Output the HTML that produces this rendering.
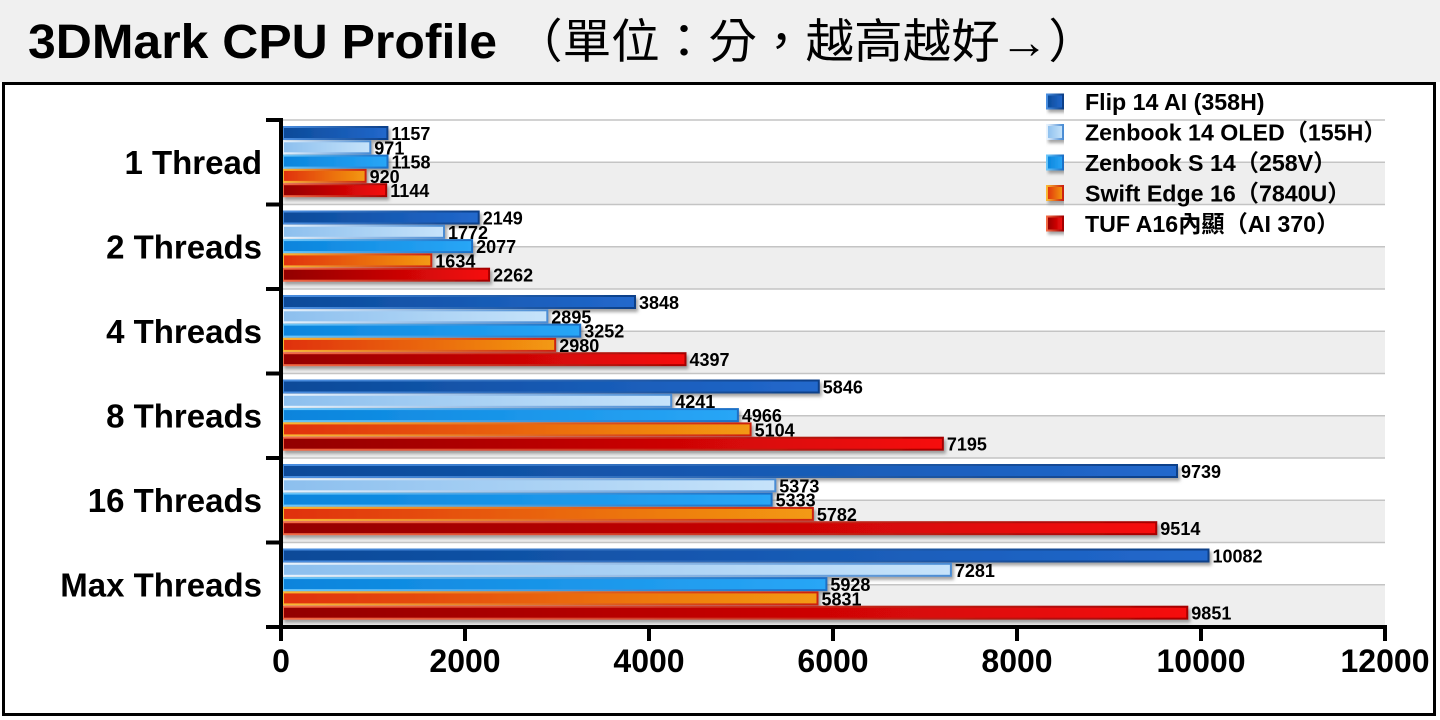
<!DOCTYPE html>
<html><head><meta charset="utf-8"><style>
html,body{margin:0;padding:0;background:#fff;}
svg{display:block;}
.cat{font-family:"Liberation Sans","Noto Sans CJK TC",sans-serif;font-weight:bold;font-size:33px;fill:#000;text-anchor:end;}
.xt{font-family:"Liberation Sans",sans-serif;font-weight:bold;font-size:32px;fill:#000;text-anchor:middle;}
.v{font-family:"Liberation Sans",sans-serif;font-weight:bold;font-size:18px;fill:#000;}
.lg{font-family:"Liberation Sans","Noto Sans CJK TC",sans-serif;font-weight:bold;font-size:23.2px;fill:#000;}
.b{stroke-width:2;}
</style></head><body>
<svg width="1440" height="720" viewBox="0 0 1440 720" xmlns="http://www.w3.org/2000/svg">
<defs>
<linearGradient id="f0" x1="0" x2="1" y1="0" y2="0"><stop offset="0" stop-color="#0b4a98"/><stop offset="1" stop-color="#2268cc"/></linearGradient>
<linearGradient id="s0" x1="0" x2="1" y1="0" y2="0"><stop offset="0" stop-color="#4a8ee0"/><stop offset="1" stop-color="#0c3f88"/></linearGradient>
<linearGradient id="f1" x1="0" x2="1" y1="0" y2="0"><stop offset="0" stop-color="#8cbfee"/><stop offset="1" stop-color="#c6e3fa"/></linearGradient>
<linearGradient id="s1" x1="0" x2="1" y1="0" y2="0"><stop offset="0" stop-color="#e8f3fd"/><stop offset="1" stop-color="#4a8cd4"/></linearGradient>
<linearGradient id="f2" x1="0" x2="1" y1="0" y2="0"><stop offset="0" stop-color="#0a84dc"/><stop offset="1" stop-color="#29a6f6"/></linearGradient>
<linearGradient id="s2" x1="0" x2="1" y1="0" y2="0"><stop offset="0" stop-color="#6ac6fa"/><stop offset="1" stop-color="#1a6fc6"/></linearGradient>
<linearGradient id="f3" x1="0" x2="1" y1="0" y2="0"><stop offset="0" stop-color="#e0300c"/><stop offset="1" stop-color="#f39a12"/></linearGradient>
<linearGradient id="s3" x1="0" x2="1" y1="0" y2="0"><stop offset="0" stop-color="#f9b832"/><stop offset="1" stop-color="#cc2010"/></linearGradient>
<linearGradient id="f4" x1="0" x2="1" y1="0" y2="0"><stop offset="0" stop-color="#920000"/><stop offset="1" stop-color="#f60a0a"/></linearGradient>
<linearGradient id="s4" x1="0" x2="1" y1="0" y2="0"><stop offset="0" stop-color="#f36a45"/><stop offset="1" stop-color="#a40000"/></linearGradient>
<filter id="sh" x="-5%" y="-10%" width="110%" height="120%"><feDropShadow dx="2" dy="3" stdDeviation="1.5" flood-color="#666" flood-opacity="0.6"/></filter>
</defs>

<!-- title band -->
<rect x="0" y="0" width="1440" height="82" fill="#f0f0f0"/>
<text x="28" y="58" font-family="Liberation Sans, sans-serif" font-weight="bold" font-size="48" textLength="469" lengthAdjust="spacingAndGlyphs">3DMark CPU Profile</text>
<text x="514" y="58" font-family="Liberation Sans, Noto Sans CJK TC, sans-serif" font-size="47" textLength="583" lengthAdjust="spacingAndGlyphs">（單位：分，越高越好→）</text>

<!-- chart box -->
<rect x="3.5" y="83.5" width="1431" height="631" fill="#fff" stroke="#000" stroke-width="3"/>

<!-- bands -->
<g fill="#eeeeee">
<rect x="283" y="162.25" width="1102" height="42.25"/>
<rect x="283" y="246.75" width="1102" height="42.25"/>
<rect x="283" y="331.25" width="1102" height="42.25"/>
<rect x="283" y="415.75" width="1102" height="42.25"/>
<rect x="283" y="500.25" width="1102" height="42.25"/>
<rect x="283" y="584.75" width="1102" height="42.25"/>
</g>
<g stroke="#c4c4c4" stroke-width="1.5">
<line x1="283" x2="1385" y1="120" y2="120"/>
<line x1="283" x2="1385" y1="162.25" y2="162.25"/>
<line x1="283" x2="1385" y1="204.5" y2="204.5"/>
<line x1="283" x2="1385" y1="246.75" y2="246.75"/>
<line x1="283" x2="1385" y1="289" y2="289"/>
<line x1="283" x2="1385" y1="331.25" y2="331.25"/>
<line x1="283" x2="1385" y1="373.5" y2="373.5"/>
<line x1="283" x2="1385" y1="415.75" y2="415.75"/>
<line x1="283" x2="1385" y1="458" y2="458"/>
<line x1="283" x2="1385" y1="500.25" y2="500.25"/>
<line x1="283" x2="1385" y1="542.5" y2="542.5"/>
<line x1="283" x2="1385" y1="584.75" y2="584.75"/>
</g>

<!-- bars -->
<g filter="url(#sh)">
<rect class="b" x="283" y="127" width="104.4" height="12" fill="url(#f0)" stroke="url(#s0)"/>
<rect class="b" x="283" y="141.3" width="87.3" height="12" fill="url(#f1)" stroke="url(#s1)"/>
<rect class="b" x="283" y="155.6" width="104.5" height="12" fill="url(#f2)" stroke="url(#s2)"/>
<rect class="b" x="283" y="169.9" width="82.6" height="12" fill="url(#f3)" stroke="url(#s3)"/>
<rect class="b" x="283" y="184.2" width="103.2" height="12" fill="url(#f4)" stroke="url(#s4)"/>

<rect class="b" x="283" y="211.5" width="195.7" height="12" fill="url(#f0)" stroke="url(#s0)"/>
<rect class="b" x="283" y="225.8" width="161.0" height="12" fill="url(#f1)" stroke="url(#s1)"/>
<rect class="b" x="283" y="240.1" width="189.1" height="12" fill="url(#f2)" stroke="url(#s2)"/>
<rect class="b" x="283" y="254.4" width="148.3" height="12" fill="url(#f3)" stroke="url(#s3)"/>
<rect class="b" x="283" y="268.7" width="206.1" height="12" fill="url(#f4)" stroke="url(#s4)"/>

<rect class="b" x="283" y="296" width="352.0" height="12" fill="url(#f0)" stroke="url(#s0)"/>
<rect class="b" x="283" y="310.3" width="264.3" height="12" fill="url(#f1)" stroke="url(#s1)"/>
<rect class="b" x="283" y="324.6" width="297.2" height="12" fill="url(#f2)" stroke="url(#s2)"/>
<rect class="b" x="283" y="338.9" width="272.2" height="12" fill="url(#f3)" stroke="url(#s3)"/>
<rect class="b" x="283" y="353.2" width="402.5" height="12" fill="url(#f4)" stroke="url(#s4)"/>

<rect class="b" x="283" y="380.5" width="535.8" height="12" fill="url(#f0)" stroke="url(#s0)"/>
<rect class="b" x="283" y="394.8" width="388.2" height="12" fill="url(#f1)" stroke="url(#s1)"/>
<rect class="b" x="283" y="409.1" width="454.9" height="12" fill="url(#f2)" stroke="url(#s2)"/>
<rect class="b" x="283" y="423.4" width="467.6" height="12" fill="url(#f3)" stroke="url(#s3)"/>
<rect class="b" x="283" y="437.7" width="659.9" height="12" fill="url(#f4)" stroke="url(#s4)"/>

<rect class="b" x="283" y="465" width="894.0" height="12" fill="url(#f0)" stroke="url(#s0)"/>
<rect class="b" x="283" y="479.3" width="492.3" height="12" fill="url(#f1)" stroke="url(#s1)"/>
<rect class="b" x="283" y="493.6" width="488.6" height="12" fill="url(#f2)" stroke="url(#s2)"/>
<rect class="b" x="283" y="507.9" width="529.9" height="12" fill="url(#f3)" stroke="url(#s3)"/>
<rect class="b" x="283" y="522.2" width="873.3" height="12" fill="url(#f4)" stroke="url(#s4)"/>

<rect class="b" x="283" y="549.5" width="925.5" height="12" fill="url(#f0)" stroke="url(#s0)"/>
<rect class="b" x="283" y="563.8" width="667.9" height="12" fill="url(#f1)" stroke="url(#s1)"/>
<rect class="b" x="283" y="578.1" width="543.4" height="12" fill="url(#f2)" stroke="url(#s2)"/>
<rect class="b" x="283" y="592.4" width="534.5" height="12" fill="url(#f3)" stroke="url(#s3)"/>
<rect class="b" x="283" y="606.7" width="904.3" height="12" fill="url(#f4)" stroke="url(#s4)"/>
</g>

<!-- value labels -->
<g>
<text class="v" x="391.4" y="140">1157</text>
<text class="v" x="374.3" y="154.3">971</text>
<text class="v" x="391.5" y="168.6">1158</text>
<text class="v" x="369.6" y="182.9">920</text>
<text class="v" x="390.2" y="197.2">1144</text>

<text class="v" x="482.7" y="224.5">2149</text>
<text class="v" x="448.0" y="238.8">1772</text>
<text class="v" x="476.1" y="253.1">2077</text>
<text class="v" x="435.3" y="267.4">1634</text>
<text class="v" x="493.1" y="281.7">2262</text>

<text class="v" x="639.0" y="309">3848</text>
<text class="v" x="551.3" y="323.3">2895</text>
<text class="v" x="584.2" y="337.6">3252</text>
<text class="v" x="559.2" y="351.9">2980</text>
<text class="v" x="689.5" y="366.2">4397</text>

<text class="v" x="822.8" y="393.5">5846</text>
<text class="v" x="675.2" y="407.8">4241</text>
<text class="v" x="741.9" y="422.1">4966</text>
<text class="v" x="754.6" y="436.4">5104</text>
<text class="v" x="946.9" y="450.7">7195</text>

<text class="v" x="1181.0" y="478">9739</text>
<text class="v" x="779.3" y="492.3">5373</text>
<text class="v" x="775.6" y="506.6">5333</text>
<text class="v" x="816.9" y="520.9">5782</text>
<text class="v" x="1160.3" y="535.2">9514</text>

<text class="v" x="1212.5" y="562.5">10082</text>
<text class="v" x="954.9" y="576.8">7281</text>
<text class="v" x="830.4" y="591.1">5928</text>
<text class="v" x="821.5" y="605.4">5831</text>
<text class="v" x="1191.3" y="619.7">9851</text>
</g>

<!-- axes -->
<g stroke="#000" stroke-width="4">
<line x1="281" x2="281" y1="118" y2="629"/>
<line x1="266" x2="1387" y1="627" y2="627"/>
<line x1="266" x2="281" y1="120" y2="120"/>
<line x1="266" x2="281" y1="204.5" y2="204.5"/>
<line x1="266" x2="281" y1="289" y2="289"/>
<line x1="266" x2="281" y1="373.5" y2="373.5"/>
<line x1="266" x2="281" y1="458" y2="458"/>
<line x1="266" x2="281" y1="542.5" y2="542.5"/>
<line x1="281" x2="281" y1="627" y2="641"/>
<line x1="465" x2="465" y1="627" y2="641"/>
<line x1="649" x2="649" y1="627" y2="641"/>
<line x1="833" x2="833" y1="627" y2="641"/>
<line x1="1017" x2="1017" y1="627" y2="641"/>
<line x1="1201" x2="1201" y1="627" y2="641"/>
<line x1="1385" x2="1385" y1="627" y2="641"/>
</g>

<!-- x tick labels -->
<text class="xt" x="281" y="672">0</text>
<text class="xt" x="465" y="672">2000</text>
<text class="xt" x="649" y="672">4000</text>
<text class="xt" x="833" y="672">6000</text>
<text class="xt" x="1017" y="672">8000</text>
<text class="xt" x="1201" y="672">10000</text>
<text class="xt" x="1385" y="672">12000</text>

<!-- category labels -->
<text class="cat" x="262" y="174">1 Thread</text>
<text class="cat" x="262" y="258.5">2 Threads</text>
<text class="cat" x="262" y="343">4 Threads</text>
<text class="cat" x="262" y="427.5">8 Threads</text>
<text class="cat" x="262" y="512">16 Threads</text>
<text class="cat" x="262" y="596.5">Max Threads</text>

<!-- legend -->
<g filter="url(#sh)">
<rect x="1047" y="94.5" width="16" height="14" fill="url(#f0)" stroke="url(#s0)" stroke-width="2"/>
<rect x="1047" y="125" width="16" height="14" fill="url(#f1)" stroke="url(#s1)" stroke-width="2"/>
<rect x="1047" y="155.5" width="16" height="14" fill="url(#f2)" stroke="url(#s2)" stroke-width="2"/>
<rect x="1047" y="186" width="16" height="14" fill="url(#f3)" stroke="url(#s3)" stroke-width="2"/>
<rect x="1047" y="216.5" width="16" height="14" fill="url(#f4)" stroke="url(#s4)" stroke-width="2"/>
</g>
<text class="lg" x="1085" y="110">Flip 14 AI (358H)</text>
<text class="lg" x="1085" y="140.5">Zenbook 14 OLED（155H）</text>
<text class="lg" x="1085" y="171">Zenbook S 14（258V）</text>
<text class="lg" x="1085" y="201.5">Swift Edge 16（7840U）</text>
<text class="lg" x="1085" y="232">TUF A16內顯（AI 370）</text>
</svg>
</body></html>
